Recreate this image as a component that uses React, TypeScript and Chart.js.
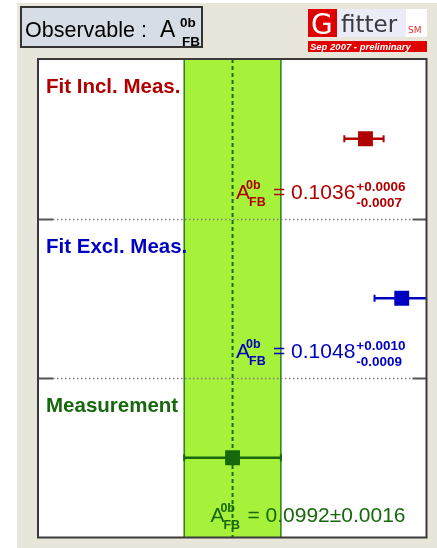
import { useEffect, useRef } from "react";
import { Chart, registerables } from "chart.js";

Chart.register(...registerables);

// Rows of the comparison, top to bottom
const ROWS = ["Fit Incl. Meas.", "Fit Excl. Meas.", "Measurement"];
const VALUES = [0.1036, 0.1048, 0.0992];
const ERR_UP = [0.0006, 0.001, 0.0016];
const ERR_DOWN = [0.0007, 0.0009, 0.0016];
const ROW_COLORS = ["#b00000", "#0000c0", "#17680c"];
const MEAS_INDEX = 2;

// Horizontal axis range (A_FB^0b)
const X_MIN = 0.09276;
const X_MAX = 0.10562;

const TITLE = "Observable :";
const LOGO_TAG = "Sep 2007 - preliminary";

const SANS = "'Liberation Sans', Arial, sans-serif";
const DEJAVU = "'DejaVu Sans', sans-serif";

const W = 437;
const H = 548;

function drawHeader(ctx: CanvasRenderingContext2D) {
  // page background
  ctx.fillStyle = "#ffffff";
  ctx.fillRect(0, 0, W, H);
  ctx.fillStyle = "#e8e6da";
  ctx.fillRect(17, 3, W - 17, H - 3);

  // observable box
  ctx.fillStyle = "#d6dde4";
  ctx.fillRect(20, 6, 183, 42);
  ctx.strokeStyle = "#333333";
  ctx.lineWidth = 2;
  ctx.strokeRect(21, 7, 181, 40);
  ctx.fillStyle = "#000000";
  ctx.textBaseline = "alphabetic";
  ctx.textAlign = "left";
  ctx.font = `21.5px ${SANS}`;
  ctx.fillText(TITLE, 25, 37);
  ctx.font = `23px ${SANS}`;
  ctx.fillText("A", 160, 37);
  ctx.font = `bold 13.5px ${SANS}`;
  ctx.fillText("0b", 180, 27);
  ctx.fillText("FB", 182, 46);

  // logo
  ctx.fillStyle = "#e00000";
  ctx.fillRect(308, 9, 29, 28);
  ctx.fillStyle = "#ececf8";
  ctx.fillRect(337, 9, 69, 28);
  ctx.fillStyle = "#ffffff";
  ctx.fillRect(406, 9, 21, 28);
  ctx.fillStyle = "#ffffff";
  ctx.font = `28px ${DEJAVU}`;
  ctx.fillText("G", 311, 34);
  ctx.fillStyle = "#3a3a40";
  ctx.font = `23px ${DEJAVU}`;
  ctx.fillText("fitter", 341, 32);
  ctx.fillStyle = "#e03030";
  ctx.font = `9px ${DEJAVU}`;
  ctx.fillText("SM", 408, 33);
  ctx.fillStyle = "#e00000";
  ctx.fillRect(308, 41, 119, 11);
  ctx.fillStyle = "#ffffff";
  ctx.font = `italic bold 9.5px ${SANS}`;
  ctx.fillText(LOGO_TAG, 310, 50);
}

function drawFormula(
  ctx: CanvasRenderingContext2D,
  rightX: number,
  baseY: number,
  color: string,
  i: number
) {
  const main = VALUES[i].toFixed(4);
  const symmetric = ERR_UP[i] === ERR_DOWN[i];
  const big = `21px ${SANS}`;
  const small = `bold 13.5px ${SANS}`;
  ctx.textAlign = "left";
  ctx.textBaseline = "alphabetic";

  ctx.font = big;
  const aW = 37;
  let tail = "";
  let numW = 0;
  let errW = 0;
  const up = "+" + ERR_UP[i].toFixed(4);
  const down = "-" + ERR_DOWN[i].toFixed(4);
  if (symmetric) {
    tail = `= ${main}\u00b1${ERR_UP[i].toFixed(4)}`;
    numW = ctx.measureText(tail).width;
  } else {
    tail = `= ${main}`;
    numW = ctx.measureText(tail).width + 1;
    ctx.font = small;
    errW = Math.max(ctx.measureText(up).width, ctx.measureText(down).width);
  }
  const x0 = rightX - aW - numW - errW;

  ctx.fillStyle = color;
  ctx.font = big;
  ctx.fillText("A", x0, baseY);
  ctx.font = `bold 12.5px ${SANS}`;
  ctx.fillText("0b", x0 + 10, baseY - 10);
  ctx.fillText("FB", x0 + 13, baseY + 7);
  ctx.font = big;
  ctx.fillText(tail, x0 + aW, baseY);
  if (!symmetric) {
    ctx.font = small;
    const ex = x0 + aW + numW;
    ctx.fillText(up, ex, baseY - 8);
    ctx.fillText(down, ex, baseY + 8);
  }
}

const decorations = {
  id: "gfitterDecor",
  beforeDraw(chart: Chart) {
    drawHeader(chart.ctx);
    const { left, top, width, height } = chart.chartArea;
    chart.ctx.fillStyle = "#ffffff";
    chart.ctx.fillRect(left, top, width, height);
  },
  beforeDatasetsDraw(chart: Chart) {
    const ctx = chart.ctx;
    const xs = chart.scales.x;
    const ys = chart.scales.y;
    const area = chart.chartArea;
    ctx.save();
    ctx.beginPath();
    ctx.rect(area.left, area.top, area.width, area.height);
    ctx.clip();

    // measurement band
    const m = MEAS_INDEX;
    const bx0 = xs.getPixelForValue(VALUES[m] - ERR_DOWN[m]);
    const bx1 = xs.getPixelForValue(VALUES[m] + ERR_UP[m]);
    ctx.fillStyle = "#a6f23a";
    ctx.fillRect(bx0, area.top, bx1 - bx0, area.height);
    ctx.strokeStyle = "#2f7d1e";
    ctx.lineWidth = 1.5;
    ctx.beginPath();
    ctx.moveTo(bx0, area.top);
    ctx.lineTo(bx0, area.bottom);
    ctx.moveTo(bx1, area.top);
    ctx.lineTo(bx1, area.bottom);
    ctx.stroke();

    // central value
    const cx = xs.getPixelForValue(VALUES[m]);
    ctx.strokeStyle = "#1d6a12";
    ctx.lineWidth = 2;
    ctx.setLineDash([4, 3]);
    ctx.beginPath();
    ctx.moveTo(cx, area.top);
    ctx.lineTo(cx, area.bottom);
    ctx.stroke();
    ctx.setLineDash([]);

    // row separators
    for (let r = 1; r < ROWS.length; r++) {
      const y = Math.round(ys.getPixelForValue(r)) + 0.5;
      ctx.strokeStyle = "#555555";
      ctx.lineWidth = 2;
      ctx.beginPath();
      ctx.moveTo(area.left, y);
      ctx.lineTo(area.left + 15, y);
      ctx.moveTo(area.right - 14, y);
      ctx.lineTo(area.right, y);
      ctx.stroke();
      ctx.strokeStyle = "#808080";
      ctx.lineWidth = 1.5;
      ctx.setLineDash([1.5, 2.5]);
      ctx.beginPath();
      ctx.moveTo(area.left + 15, y);
      ctx.lineTo(area.right - 14, y);
      ctx.stroke();
      ctx.setLineDash([]);
    }

    // error bars
    ROWS.forEach((_, i) => {
      const y = ys.getPixelForValue(i + 0.5);
      const l = xs.getPixelForValue(VALUES[i] - ERR_DOWN[i]);
      const r = xs.getPixelForValue(VALUES[i] + ERR_UP[i]);
      ctx.strokeStyle = ROW_COLORS[i];
      ctx.lineWidth = 2.5;
      ctx.beginPath();
      ctx.moveTo(l, y);
      ctx.lineTo(r, y);
      ctx.stroke();
      ctx.lineWidth = 2;
      ctx.beginPath();
      ctx.moveTo(l, y - 3.5);
      ctx.lineTo(l, y + 3.5);
      ctx.moveTo(r, y - 3.5);
      ctx.lineTo(r, y + 3.5);
      ctx.stroke();
    });
    ctx.restore();
  },
  afterDatasetsDraw(chart: Chart) {
    const ctx = chart.ctx;
    const ys = chart.scales.y;
    const area = chart.chartArea;
    ctx.save();
    ROWS.forEach((name, i) => {
      ctx.fillStyle = ROW_COLORS[i];
      ctx.font = `bold 20.5px ${SANS}`;
      ctx.textAlign = "left";
      ctx.textBaseline = "alphabetic";
      ctx.fillText(name, area.left + 8, ys.getPixelForValue(i + 0.215));
      const symmetric = ERR_UP[i] === ERR_DOWN[i];
      drawFormula(
        ctx,
        area.right - 21,
        ys.getPixelForValue(i + (symmetric ? 0.9 : 0.875)),
        ROW_COLORS[i],
        i
      );
    });
    ctx.strokeStyle = "#3a3a3a";
    ctx.lineWidth = 2;
    ctx.strokeRect(area.left, area.top, area.width, area.height);
    ctx.restore();
  },
};

export default function App() {
  const canvasRef = useRef<HTMLCanvasElement | null>(null);

  useEffect(() => {
    const canvas = canvasRef.current;
    if (!canvas) return;
    const chart = new Chart(canvas, {
      type: "scatter",
      data: {
        datasets: [
          {
            data: VALUES.map((v, i) => ({ x: v, y: i + 0.5 })),
            pointStyle: "rect",
            pointRadius: 10.5,
            pointBackgroundColor: ROW_COLORS,
            pointBorderColor: ROW_COLORS,
            pointBorderWidth: 0,
            showLine: false,
          },
        ],
      },
      options: {
        animation: false,
        responsive: false,
        events: [],
        layout: { padding: { left: 38, top: 59, right: 7, bottom: 9 } },
        plugins: {
          legend: { display: false },
          tooltip: { enabled: false },
        },
        scales: {
          x: { type: "linear", min: X_MIN, max: X_MAX, display: false },
          y: { type: "linear", min: 0, max: ROWS.length, reverse: true, display: false },
        },
      },
      plugins: [decorations],
    });
    return () => chart.destroy();
  }, []);

  return (
    <div style={{ position: "fixed", left: 0, top: 0, width: W, height: H }}>
      <canvas ref={canvasRef} width={W} height={H} style={{ width: W, height: H }} />
    </div>
  );
}
